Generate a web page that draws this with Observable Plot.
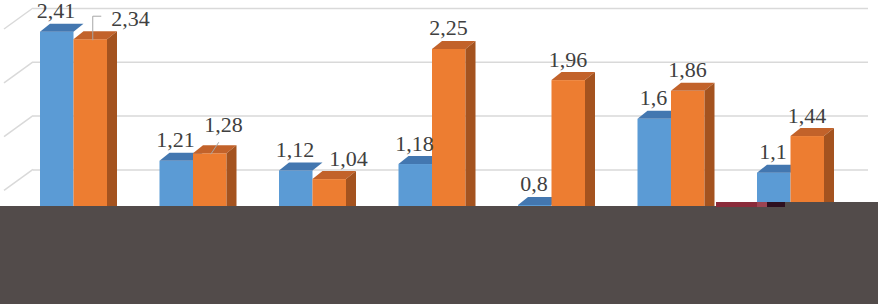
<!DOCTYPE html>
<html><head><meta charset="utf-8">
<script src="https://cdn.jsdelivr.net/npm/d3@7"></script>
<script src="https://cdn.jsdelivr.net/npm/@observablehq/plot@0.6"></script>
<style>
html,body{margin:0;padding:0;background:#fff;}
#wrap{position:relative;width:878px;height:304px;overflow:hidden;}
#wrap svg{display:block;}
.band{position:absolute;}
</style></head><body>
<div id="wrap"></div>
<script>
const categories = ["1","2","3","4","5","6","7"];
const seriesBlue = [2.41, 1.21, 1.12, 1.18, 0.8, 1.6, 1.1];
const seriesOrange = [2.34, 1.28, 1.04, 2.25, 1.96, 1.86, 1.44];
const gridValues = [1, 1.5, 2, 2.5];

const fmt = v => String(v).replace(".", ",");
const blue = categories.map((c, i) => ({cat: c, value: seriesBlue[i], i}));
const orange = categories.map((c, i) => ({cat: c, value: seriesOrange[i], i}));

// 3D styling (pixels)
const W = 33.5, DX = 10, DY = 8, GRID_DY = -14;
const font = {fontSize: 22, fontFamily: "'Liberation Serif', 'Times New Roman', serif", fill: "#404040", lineAnchor: "bottom"};

function faces(data, side, colTop, colSide) {
  return (index, scales) => {
    const g = d3.create("svg:g");
    const {x, y} = scales;
    const bw = x.bandwidth ? x.bandwidth() : 0;
    const y0 = y(0);
    for (const d of data) {
      const c = x(d.cat) + bw / 2;
      const xl = side < 0 ? c - W : c;
      const xr = xl + W;
      const t = y(d.value);
      g.append("path").attr("d", `M${xl},${t}L${xl+DX},${t-DY}L${xr+DX},${t-DY}L${xr},${t}Z`).attr("fill", colTop);
      if (colSide) g.append("path").attr("d", `M${xr},${t}L${xr+DX},${t-DY}L${xr+DX},${y0-DY}L${xr},${y0}Z`).attr("fill", colSide);
    }
    return g.node();
  };
}

function wall(index, scales, values, dims) {
  const g = d3.create("svg:g");
  const {y} = scales;
  for (const v of gridValues) {
    const gy = y(v) + GRID_DY;
    g.append("line").attr("x1", dims.marginLeft).attr("y1", gy)
      .attr("x2", dims.marginLeft - 29).attr("y2", gy + 21)
      .attr("stroke", "#d9d9d9").attr("stroke-width", 1.5);
  }
  return g.node();
}

function leaders(index, scales) {
  const g = d3.create("svg:g");
  const {x, y} = scales;
  const bw = x.bandwidth ? x.bandwidth() : 0;
  const o0 = orange[0], o1 = orange[1];
  const c0 = x(o0.cat) + bw / 2 + W / 2, t0 = y(o0.value);
  g.append("path").attr("d", `M${c0+2.5},${t0+1}L${c0+2.5},${t0-23}L${c0+11},${t0-23}`)
    .attr("fill", "none").attr("stroke", "#a6a6a6").attr("stroke-width", 1);
  const c1 = x(o1.cat) + bw / 2 + W / 2, t1 = y(o1.value);
  g.append("path").attr("d", `M${c1+1},${t1+1}L${c1+9},${t1-11}`)
    .attr("fill", "none").attr("stroke", "#a6a6a6").attr("stroke-width", 1);
  return g.node();
}

const chart = Plot.plot({
  width: 878,
  height: 304,
  marginLeft: 33,
  marginRight: 10,
  marginTop: 0,
  marginBottom: 13,
  style: {background: "#ffffff", fontFamily: "'Liberation Serif', 'Times New Roman', serif"},
  x: {type: "band", domain: categories, range: [13.75, 850.25], padding: 0, round: false, axis: null},
  y: {domain: [0, 2.7], range: [291, 0.48], axis: null},
  marks: [
    Plot.ruleY(gridValues, {dy: GRID_DY, stroke: "#d9d9d9", strokeWidth: 1.5}),
    wall,
    Plot.barY(blue, {x: "cat", y: "value", fill: "#5b9bd5", insetLeft: 59.75 - W, insetRight: 59.75}),
    faces(blue, -1, "#4377b0", null),
    Plot.barY(orange, {x: "cat", y: "value", fill: "#ed7d31", insetLeft: 59.75, insetRight: 59.75 - W}),
    faces(orange, 1, "#c2622a", "#a4531f"),
    leaders,
    Plot.text(blue, {x: "cat", y: "value", text: d => fmt(d.value), dx: -18, dy: -14, ...font}),
    Plot.text(orange.filter(d => d.i >= 3), {x: "cat", y: "value", text: d => fmt(d.value), dx: 16, dy: -14, ...font}),
    Plot.text(orange.filter(d => d.i === 0), {x: "cat", y: "value", text: d => fmt(d.value), dx: 56.5, dy: -14, ...font}),
    Plot.text(orange.filter(d => d.i === 1), {x: "cat", y: "value", text: d => fmt(d.value), dx: 30, dy: -22, ...font}),
    Plot.text(orange.filter(d => d.i === 2), {x: "cat", y: "value", text: d => fmt(d.value), dx: 35.5, dy: -14, ...font})
  ]
});

const wrap = document.getElementById("wrap");
wrap.appendChild(chart);

// dark cover band across the lower part of the picture
const bands = [
  {l: 0, t: 206, w: 878, h: 98, c: "#524b4a"},
  {l: 785, t: 202, w: 93, h: 5, c: "#524b4a"},
  {l: 716, t: 202, w: 41, h: 5, c: "#8a2b3a"},
  {l: 757, t: 202, w: 10, h: 5, c: "#9c4452"},
  {l: 767, t: 202, w: 18, h: 5, c: "#2e1020"}
];
for (const b of bands) {
  const el = document.createElement("div");
  el.className = "band";
  el.style.left = b.l + "px"; el.style.top = b.t + "px";
  el.style.width = b.w + "px"; el.style.height = b.h + "px";
  el.style.background = b.c;
  wrap.appendChild(el);
}
</script>
</body></html>
